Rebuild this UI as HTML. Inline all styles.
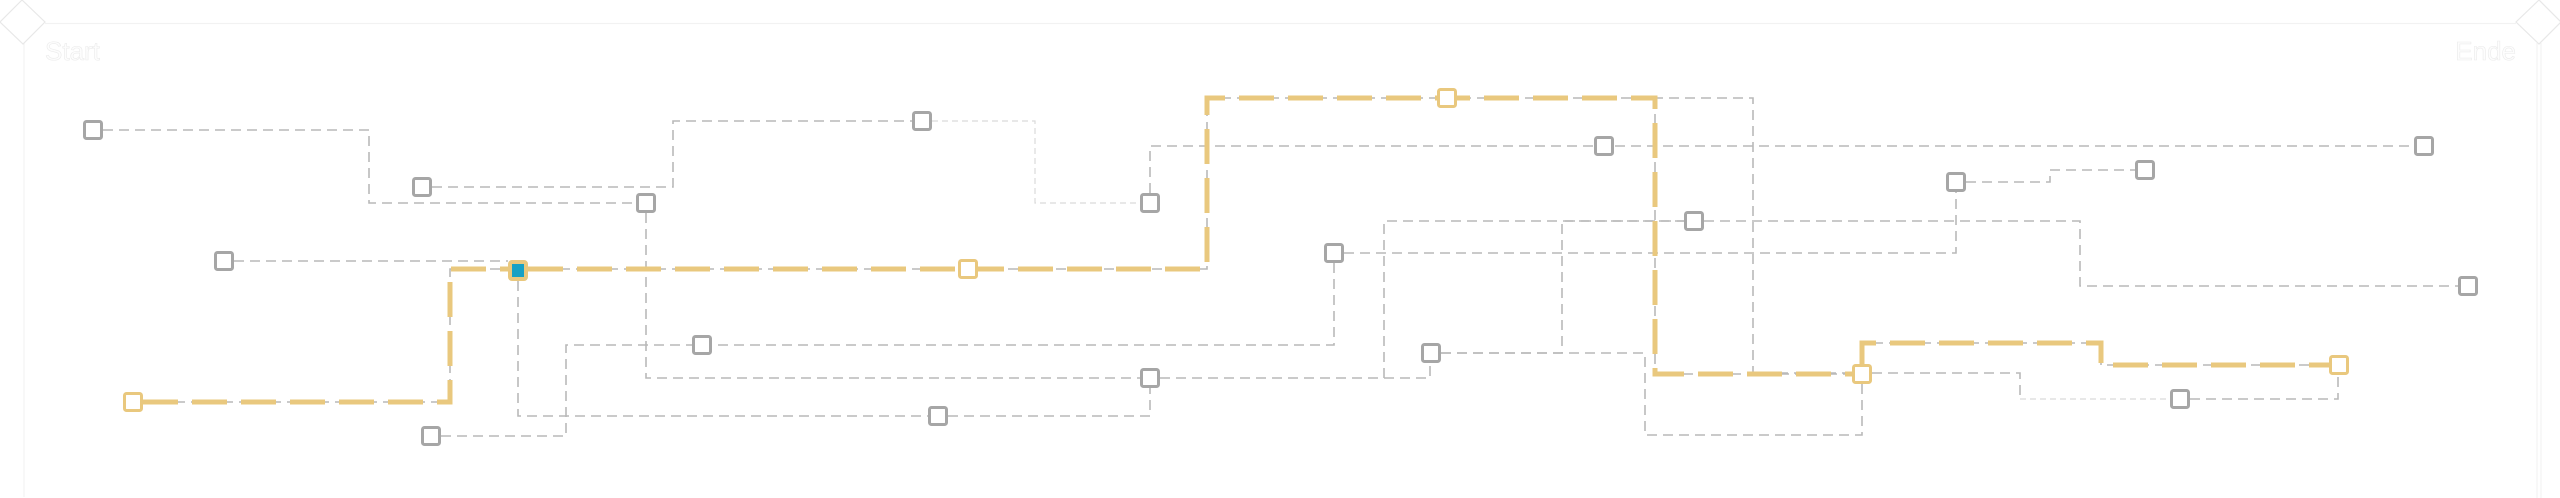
<!DOCTYPE html>
<html>
<head>
<meta charset="utf-8">
<style>
  html, body { margin: 0; padding: 0; background: #ffffff; }
  body { width: 2560px; height: 498px; overflow: hidden; }
  svg { display: block; }
  .g { fill: none; stroke: #b9b9b9; stroke-width: 1.6; stroke-dasharray: 10 6; }
  .gf { fill: none; stroke: #dadada; stroke-width: 1.2; stroke-dasharray: 6 4; }
  .y { fill: none; stroke: #e9c87e; stroke-width: 5; stroke-dasharray: 35 14; stroke-linejoin: miter; }
  .n { fill: #ffffff; stroke: #a6a6a6; stroke-width: 3; }
  .ny { fill: #ffffff; stroke: #e9c87e; stroke-width: 3; }
  .nt { fill: #17a1c5; stroke: #e9c87e; stroke-width: 4; }
  .frame { fill: none; stroke: #f2f2f2; stroke-width: 1.2; }
  .lbl { font-family: "Liberation Sans", sans-serif; font-size: 26px; fill: #fdfdfd; stroke: #ebebeb; stroke-width: 0.6; }
</style>
</head>
<body>
<svg width="2560" height="498" viewBox="0 0 2560 498" xmlns="http://www.w3.org/2000/svg">
  <!-- frame -->
  <line class="frame" x1="45" y1="23.5" x2="2516" y2="23.5"/>
  <line class="frame" x1="24" y1="43" x2="24" y2="497"/>
  <line class="frame" x1="2537" y1="43" x2="2537" y2="498"/>
  <line class="frame" x1="2541" y1="43" x2="2541" y2="498"/>
  <polygon class="frame" points="22,0 45,22 23,44 0,22" style="stroke:#e8e8e8"/>
  <polygon class="frame" points="2539,0 2561,22 2539,44 2516,22" style="stroke:#e8e8e8"/>
  <text class="lbl" x="45" y="60">Start</text>
  <text class="lbl" x="2516" y="60" text-anchor="end">Ende</text>

  <!-- gray connectors -->
  <path class="g" d="M103,130 H369 V203 H636"/>
  <path class="g" d="M432,187 H673 V121 H912"/>
  <path class="gf" d="M932,121 H1035 V203 H1140"/>
  <path class="g" d="M1150,193 V146 H2414"/>
  <path class="g" d="M234,261 H508"/>
  <path class="g" d="M143,402 H450 V269 H508"/>
  <path class="g" d="M528,269 H1207 V98 H1753 V373 H1852"/>
  <path class="g" d="M1655,98 V374 H1852"/>
  <path class="g" d="M646,213 V378 H1140"/>
  <path class="g" d="M1160,378 H1430 V363"/>
  <path class="g" d="M1384,378 V221 H1684"/>
  <path class="g" d="M1704,221 H2080 V286 H2458"/>
  <path class="g" d="M1441,353 H1562 V221 H1684"/>
  <path class="g" d="M1441,353 H1645 V435 H1862 V384"/>
  <path class="g" d="M1344,253 H1956 V192"/>
  <path class="g" d="M1334,263 V345 H566 V436 H441"/>
  <path class="g" d="M518,281 V416 H928"/>
  <path class="g" d="M948,416 H1150 V388"/>
  <path class="g" d="M1966,182 H2050 V170 H2135"/>
  <path class="g" d="M1872,373 H2020 V399"/>
  <path class="gf" d="M2020,399 H2170"/>
  <path class="g" d="M2190,399 H2338 V375"/>
  <path class="g" d="M1862,364 V343 H2101 V365 H2329"/>

  <!-- highlighted path -->
  <path class="y" d="M143,402 H450 V269 H508"/>
  <path class="y" d="M528,269 H1207 V98 H1655 V374 H1852"/>
  <path class="y" d="M1862,364 V343 H2101 V365 H2329"/>

  <!-- gray nodes -->
  <rect class="n" x="84.5" y="121.5" width="17" height="17" rx="2"/>
  <rect class="n" x="413.5" y="178.5" width="17" height="17" rx="2"/>
  <rect class="n" x="637.5" y="194.5" width="17" height="17" rx="2"/>
  <rect class="n" x="215.5" y="252.5" width="17" height="17" rx="2"/>
  <rect class="n" x="422.5" y="427.5" width="17" height="17" rx="2"/>
  <rect class="n" x="913.5" y="112.5" width="17" height="17" rx="2"/>
  <rect class="n" x="1141.5" y="194.5" width="17" height="17" rx="2"/>
  <rect class="n" x="1141.5" y="369.5" width="17" height="17" rx="2"/>
  <rect class="n" x="693.5" y="336.5" width="17" height="17" rx="2"/>
  <rect class="n" x="929.5" y="407.5" width="17" height="17" rx="2"/>
  <rect class="n" x="1595.5" y="137.5" width="17" height="17" rx="2"/>
  <rect class="n" x="1685.5" y="212.5" width="17" height="17" rx="2"/>
  <rect class="n" x="1325.5" y="244.5" width="17" height="17" rx="2"/>
  <rect class="n" x="1422.5" y="344.5" width="17" height="17" rx="2"/>
  <rect class="n" x="2415.5" y="137.5" width="17" height="17" rx="2"/>
  <rect class="n" x="1947.5" y="173.5" width="17" height="17" rx="2"/>
  <rect class="n" x="2136.5" y="161.5" width="17" height="17" rx="2"/>
  <rect class="n" x="2459.5" y="277.5" width="17" height="17" rx="2"/>
  <rect class="n" x="2171.5" y="390.5" width="17" height="17" rx="2"/>

  <!-- yellow nodes -->
  <rect class="ny" x="124.5" y="393.5" width="17" height="17" rx="2"/>
  <rect class="ny" x="959.5" y="260.5" width="17" height="17" rx="2"/>
  <rect class="ny" x="1438.5" y="89.5" width="17" height="17" rx="2"/>
  <rect class="ny" x="1853.5" y="365.5" width="17" height="17" rx="2"/>
  <rect class="ny" x="2330.5" y="356.5" width="17" height="17" rx="2"/>

  <!-- teal node -->
  <rect class="nt" x="510" y="262" width="16" height="17" rx="2"/>
</svg>
</body>
</html>
